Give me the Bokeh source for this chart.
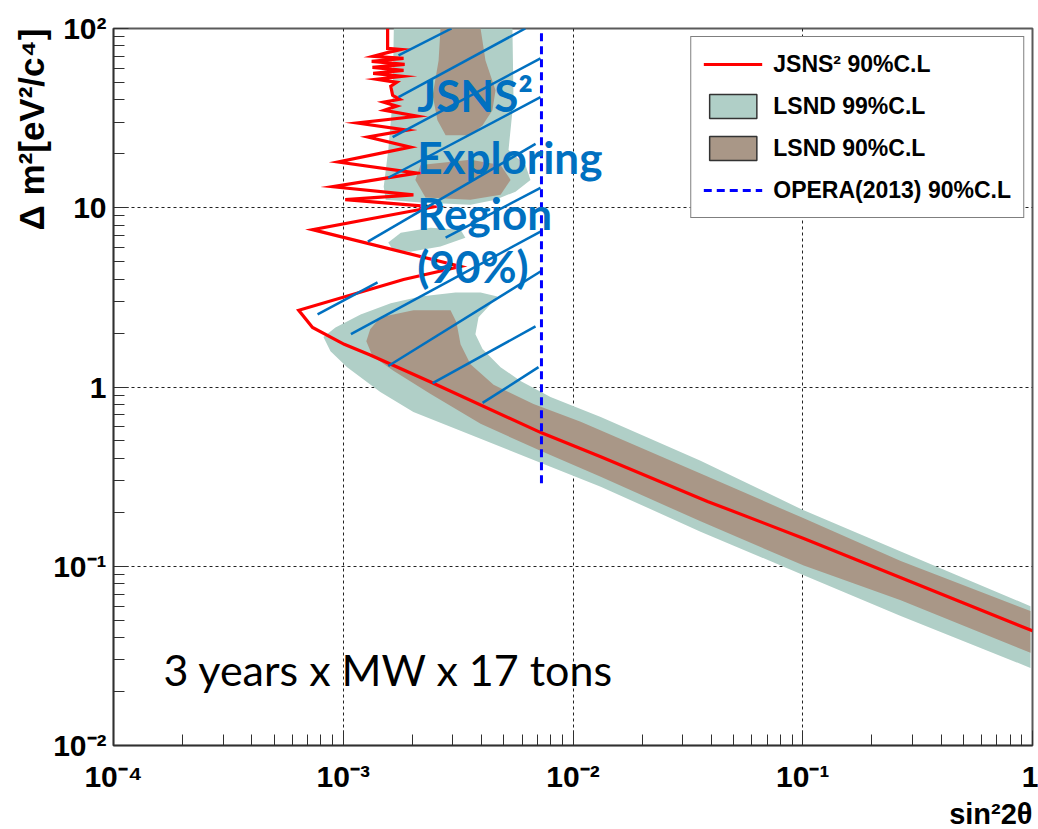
import math
from bokeh.plotting import figure
from bokeh.models import FixedTicker, Label, Legend, LegendItem, ColumnDataSource, Range1d, Title
from bokeh.embed import file_html
from bokeh.resources import INLINE

# ---------------- data ----------------
# JSNS^2 90% C.L. sensitivity contour  (sin^2 2theta , delta m^2 [eV^2])
jsns_sin2 = [1.56e-3, 1.56e-3, 1.78e-3, 1.57e-3, 1.35e-3, 1.83e-3, 1.33e-3, 1.85e-3, 1.34e-3, 1.83e-3,
             1.35e-3, 1.81e-3, 1.40e-3, 1.71e-3, 1.61e-3, 1.64e-3, 1.76e-3, 1.50e-3, 1.71e-3, 1.51e-3,
             2.10e-3, 1.15e-3, 1.90e-3, 1.28e-3, 1.96e-3, 9.5e-4, 2.10e-3, 9.0e-4, 2.02e-3, 1.02e-3,
             2.47e-3, 7.35e-4, 3.24e-3, 1.83e-3, 6.4e-4, 7.35e-4, 1.01e-3, 1.31e-3, 2.40e-3, 7.29e-3,
             1.32e-2, 3.85e-2, 0.101, 1.0]
jsns_dm2 = [100, 77.4, 76.4, 73.6, 69.9, 68.1, 65.6, 63.1, 60.7, 58.4,
            56.2, 54.1, 52.1, 50.1, 47.6, 42.4, 40.3, 38.8, 36.9, 35.0,
            32.4, 29.7, 27.1, 24.8, 21.8, 18.0, 15.6, 13.1, 11.8, 11.1,
            10.1, 7.55, 4.70, 3.98, 2.68, 2.15, 1.73, 1.51, 1.066, 0.555,
            0.408, 0.230, 0.143, 0.0436]

# LSND 99% C.L. allowed islands
lsnd99_sin2 = [
    [1.66e-3, 5.45e-3, 5.51e-3, 5.24e-3, 6.21e-3, 6.53e-3, 5.62e-3, 4.60e-3, 3.58e-3, 2.17e-3,
     1.53e-3, 1.50e-3, 1.57e-3, 1.64e-3],
    [1.57e-3, 1.78e-3, 2.40e-3, 3.24e-3, 3.40e-3, 2.65e-3, 1.96e-3, 1.64e-3],
    [8.20e-4, 9.25e-4, 1.19e-3, 1.61e-3, 2.17e-3, 3.08e-3, 3.96e-3, 4.69e-3, 4.37e-3, 3.88e-3,
     3.76e-3, 4.04e-3, 4.84e-3, 5.91e-3, 7.98e-3, 1.32e-2, 3.59e-2, 0.101, 0.267, 0.98,
     0.98, 0.267, 0.101, 3.59e-2, 1.32e-2, 7.98e-3, 3.96e-3, 2.02e-3, 1.45e-3, 1.04e-3, 8.80e-4],
]
lsnd99_dm2 = [
    [100, 100, 39.8, 21.0, 17.3, 14.3, 12.3, 11.1, 10.4, 10.7, 11.1, 13.1, 21.0, 39.8],
    [6.39, 7.26, 7.74, 7.55, 6.81, 6.07, 5.69, 5.85],
    [1.90, 2.15, 2.54, 2.93, 3.20, 3.37, 3.37, 3.20, 2.89, 2.45,
     1.97, 1.63, 1.29, 1.08, 0.880, 0.681, 0.388, 0.205, 0.121, 0.0599,
     0.0271, 0.0528, 0.0891, 0.156, 0.278, 0.359, 0.514, 0.726, 0.938, 1.29, 1.585],
]

# LSND 90% C.L. allowed islands
lsnd90_sin2 = [
    [2.65e-3, 3.96e-3, 4.16e-3, 4.60e-3, 4.46e-3, 4.04e-3, 3.58e-3, 2.79e-3, 2.57e-3, 2.45e-3, 2.60e-3],
    [2.17e-3, 3.58e-3, 4.84e-3, 5.35e-3, 4.84e-3, 3.58e-3, 2.28e-3, 2.06e-3],
    [1.26e-3, 1.31e-3, 1.45e-3, 2.02e-3, 2.93e-3, 3.11e-3, 3.24e-3, 3.58e-3, 4.51e-3, 6.73e-3,
     1.08e-2, 3.59e-2, 0.101, 0.267, 0.98, 0.98, 0.267, 0.101, 3.59e-2, 1.32e-2,
     7.22e-3, 3.96e-3, 2.40e-3, 1.66e-3, 1.34e-3],
]
lsnd90_dm2 = [
    [100, 100, 66.4, 45.2, 35.0, 28.9, 25.4, 25.4, 30.8, 42.4, 66.4],
    [17.3, 18.5, 17.3, 14.3, 11.8, 11.1, 11.4, 14.3],
    [1.80, 2.10, 2.45, 2.68, 2.68, 2.30, 1.73, 1.34, 1.03, 0.804,
     0.639, 0.329, 0.185, 0.107, 0.0562, 0.0329, 0.0647, 0.101, 0.178, 0.316,
     0.441, 0.623, 0.914, 1.23, 1.49],
]

# OPERA (2013) 90% C.L. limit
opera_sin2 = [7.29e-3, 7.29e-3]
opera_dm2 = [0.29, 100]

# hand-drawn hatching of the "JSNS^2 exploring region"
hatch_x0 = [1.74e-3, 1.74e-3, 1.64e-3, 1.57e-3, 1.28e-3, 2.79e-3, 7.73e-4, 1.08e-3, 1.57e-3, 2.45e-3, 4.04e-3]
hatch_y0 = [70.8, 41.4, 24.8, 14.7, 6.47, 6.81, 2.54, 1.97, 1.31, 1.05, 0.815]
hatch_x1 = [2.96e-3, 6.2e-3, 7.22e-3, 7.22e-3, 6.87e-3, 7.22e-3, 1.41e-3, 7.22e-3, 7.22e-3, 6.87e-3, 7.08e-3]
hatch_y1 = [100, 100, 68.1, 41.4, 22.7, 12.9, 3.83, 7.36, 4.41, 2.18, 1.29]

# axis ticks
x_ticks = [1e-4, 1e-3, 1e-2, 1e-1, 1.0]
x_tick_labels = ["10\u207b\u2074", "10\u207b\u00b3", "10\u207b\u00b2", "10\u207b\u00b9", "1"]
y_ticks = [1e-2, 1e-1, 1.0, 10.0, 100.0]
y_tick_labels = ["10\u207b\u00b2", "10\u207b\u00b9", "1", "10", "10\u00b2"]
x_minor = [m * 10.0 ** e for e in range(-4, 0) for m in range(1, 10)]
y_minor = [m * 10.0 ** e for e in range(-2, 2) for m in range(1, 10)]

# ---------------- styling ----------------
TEAL = "#b0cfc7"
BROWN = "#a99787"
HATCH = "#0070c0"
ROOTFONT = "Liberation Sans"

p = figure(width=1038, height=829, x_axis_type="log", y_axis_type="log",
           x_range=Range1d(1e-4, 1.0), y_range=Range1d(1e-2, 100.0),
           output_backend="svg", toolbar_location=None,
           min_border_left=113, min_border_right=6, min_border_top=28, min_border_bottom=81)
p.background_fill_color = "white"
p.border_fill_color = "white"
p.outline_line_color = "#5a5a5a"
p.outline_line_width = 2

p.xaxis.ticker = FixedTicker(ticks=x_ticks, minor_ticks=x_minor)
p.yaxis.ticker = FixedTicker(ticks=y_ticks, minor_ticks=y_minor)
p.xaxis.major_label_overrides = {t: s for t, s in zip(x_ticks, x_tick_labels)}
p.yaxis.major_label_overrides = {t: s for t, s in zip(y_ticks, y_tick_labels)}
for ax in (p.xaxis, p.yaxis):
    ax.major_label_text_font = ROOTFONT
    ax.major_label_text_font_style = "bold"
    ax.major_label_text_font_size = "30px"
    ax.major_label_text_color = "black"
    ax.major_tick_in = 15
    ax.major_tick_out = 0
    ax.minor_tick_in = 11
    ax.minor_tick_out = 0
    ax.axis_line_color = "#303030"
    ax.axis_line_width = 1.5
    ax.major_tick_line_color = "#303030"
    ax.minor_tick_line_color = "#303030"
p.xaxis.major_label_standoff = 14
p.yaxis.major_label_standoff = 7

p.grid.grid_line_color = "#222222"
p.grid.grid_line_dash = "3 3"
p.grid.grid_line_width = 1

# LSND regions
src99 = ColumnDataSource(dict(xs=lsnd99_sin2, ys=lsnd99_dm2))
src90 = ColumnDataSource(dict(xs=lsnd90_sin2, ys=lsnd90_dm2))
r99 = p.patches(xs="xs", ys="ys", source=src99, fill_color=TEAL, line_color=None)
r90 = p.patches(xs="xs", ys="ys", source=src90, fill_color=BROWN, line_color=None)

# JSNS^2 contour
rj = p.line(jsns_sin2, jsns_dm2, line_color="#ff0000", line_width=3.2, line_join="miter")

# hatching
p.segment(x0=hatch_x0, y0=hatch_y0, x1=hatch_x1, y1=hatch_y1, line_color=HATCH, line_width=2.5)

# OPERA
ro = p.line(opera_sin2, opera_dm2, line_color="#0000ff", line_width=3, line_dash="8 5")

# legend-only renderers (hidden) giving ROOT-style bordered boxes
leg99 = p.patches(xs="xs", ys="ys", source=src99, fill_color=TEAL,
                  line_color="#333333", line_width=1.5, visible=False)
leg90 = p.patches(xs="xs", ys="ys", source=src90, fill_color=BROWN,
                  line_color="#333333", line_width=1.5, visible=False)

legend = Legend(items=[
    LegendItem(label="JSNS\u00b2 90%C.L", renderers=[rj]),
    LegendItem(label="LSND 99%C.L", renderers=[leg99]),
    LegendItem(label="LSND 90%C.L", renderers=[leg90]),
    LegendItem(label="OPERA(2013) 90%C.L", renderers=[ro]),
], location="top_right")
legend.margin = 8
legend.padding = 12
legend.spacing = 12
legend.glyph_width = 59
legend.glyph_height = 30
legend.label_height = 30
legend.label_standoff = 11
legend.label_text_font = ROOTFONT
legend.label_text_font_style = "bold"
legend.label_text_font_size = "23px"
legend.label_text_color = "black"
legend.border_line_color = "black"
legend.border_line_width = 1.5
legend.background_fill_color = "white"
legend.background_fill_alpha = 1.0
legend.inactive_fill_alpha = 0.0
p.add_layout(legend)

# exploring-region annotation
region_lines = ["JSNS\u00b2", "Exploring", "Region", "(90%)"]
region_baselines = [42.4, 19.2, 9.38, 4.76]
for txt, yb in zip(region_lines, region_baselines):
    p.add_layout(Label(x=2.10e-3, y=yb, text=txt, text_font="Lato", text_font_style="bold",
                       text_font_size="44px", text_color=HATCH, text_align="left",
                       text_baseline="alphabetic"))

p.add_layout(Label(x=1.65e-4, y=0.0265, text="3 years x MW x 17 tons", text_font="Lato",
                   text_font_size="43px", text_color="black", text_align="left",
                   text_baseline="alphabetic"))

# axis titles (ROOT style, aligned to the axis ends)
ytitle = Title(text="\u0394 m\u00b2[eV\u00b2/c\u2074]", align="right", standoff=0,
               text_font=ROOTFONT, text_font_style="bold", text_font_size="35px",
               text_color="black")
p.add_layout(ytitle, "left")
xtitle = Title(text="sin\u00b22\u03b8", align="right", standoff=0,
               text_font=ROOTFONT, text_font_style="bold", text_font_size="29px",
               text_color="black")
p.add_layout(xtitle, "below")

open("out.html", "w").write(file_html(p, INLINE))
